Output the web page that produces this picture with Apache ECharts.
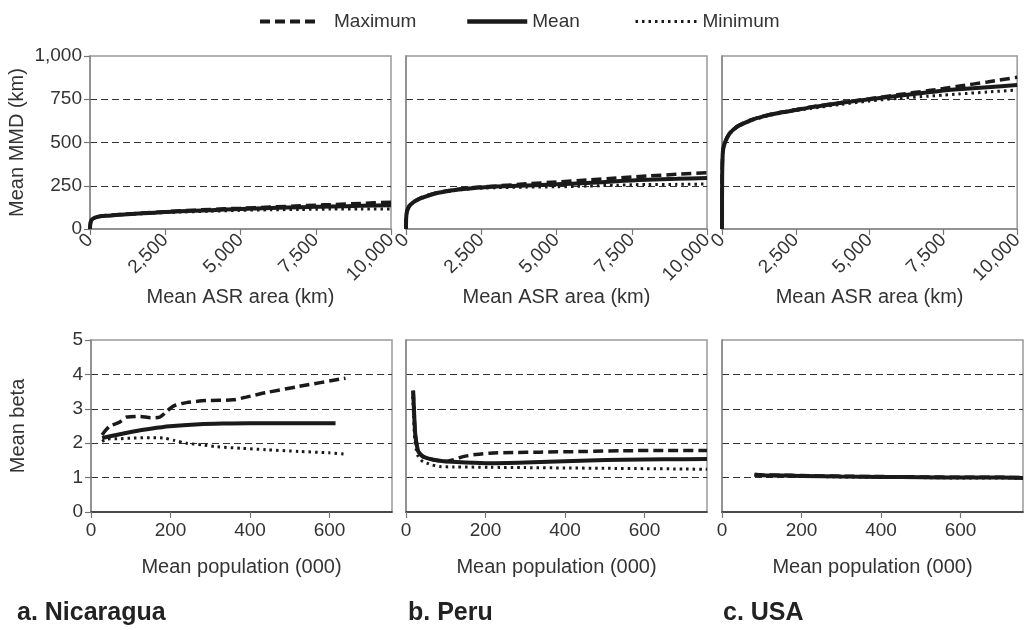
<!DOCTYPE html>
<html>
<head>
<meta charset="utf-8">
<script src="https://cdn.jsdelivr.net/npm/echarts@6/dist/echarts.min.js"></script>
<style>html,body{margin:0;padding:0;background:#fff}#c{width:1026px;height:630px}</style>
</head>
<body>
<div id="c"></div>
<script>
// ---- Data ----
var countries = ['a. Nicaragua', 'b. Peru', 'c. USA'];
var seriesNames = ['Maximum', 'Mean', 'Minimum'];
var xTopTicks = [0, 2500, 5000, 7500, 10000];
var yTopTicks = [0, 250, 500, 750, 1000];
var xBottomTicks = [0, 200, 400, 600];
var yBottomTicks = [0, 1, 2, 3, 4, 5];

// Top row: Mean ASR area (km) vs Mean MMD (km)
var areaX = [0, 5, 30, 100, 250, 500, 1000, 1500, 2000, 2500, 3000, 4000, 5000, 6000, 7000, 7500, 8000, 9000, 10000];
var nicMmdMax  = [0, 21, 46, 61, 71, 77, 84, 90, 95, 100, 105, 113, 120, 127, 134, 138, 141, 148, 155];
var nicMmdMean = [0, 20, 45, 60, 70, 76, 83, 88, 93, 98, 102, 109, 115, 121, 126, 128, 130, 134, 137];
var nicMmdMin  = [0, 19, 44, 59, 69, 75, 82, 86, 91, 95, 98, 103, 108, 111, 113, 114, 115, 115, 116];
var peruMmdMax  = [0, 60, 102, 132, 157, 180, 209, 224, 236, 243, 249, 261, 272, 283, 295, 301, 306, 316, 326];
var peruMmdMean = [0, 60, 100, 130, 155, 178, 207, 222, 233, 240, 245, 252, 258, 266, 276, 281, 285, 290, 295];
var peruMmdMin  = [0, 58, 98, 128, 153, 176, 205, 219, 230, 236, 239, 242, 244, 248, 253, 256, 257, 258, 260];
var usaMmdMax  = [0, 302, 452, 502, 552, 592, 632, 657, 675, 690, 705, 730, 753, 777, 800, 812, 825, 850, 877];
var usaMmdMean = [0, 300, 450, 500, 550, 590, 630, 655, 673, 688, 703, 728, 750, 770, 790, 800, 808, 820, 832];
var usaMmdMin  = [0, 297, 447, 497, 547, 587, 627, 652, 670, 685, 697, 720, 740, 756, 768, 774, 780, 792, 803];

// Bottom row: Mean population (000) vs Mean beta
var nicPopMax   = [28, 35, 48, 70, 90, 123, 150, 173, 190, 207, 240, 290, 357, 390, 440, 523, 640];
var nicBetaMax  = [2.24, 2.35, 2.5, 2.6, 2.76, 2.78, 2.74, 2.76, 2.92, 3.08, 3.18, 3.24, 3.26, 3.34, 3.47, 3.65, 3.89];
var nicPopMean  = [28, 60, 107, 150, 198, 273, 330, 398, 500, 615];
var nicBetaMean = [2.15, 2.23, 2.34, 2.42, 2.49, 2.55, 2.57, 2.58, 2.58, 2.58];
var nicPopMin   = [28, 40, 70, 107, 150, 182, 210, 240, 280, 315, 380, 440, 523, 600, 640];
var nicBetaMin  = [2.05, 2.12, 2.13, 2.15, 2.16, 2.15, 2.08, 2.0, 1.95, 1.9, 1.85, 1.81, 1.76, 1.72, 1.68];

var peruPopMax   = [18, 20, 23, 27, 31, 37, 43, 55, 69, 85, 102, 120, 144, 175, 211, 270, 336, 450, 546, 650, 757];
var peruBetaMax  = [3.53, 3.0, 2.29, 1.95, 1.76, 1.67, 1.61, 1.56, 1.52, 1.49, 1.47, 1.52, 1.61, 1.67, 1.71, 1.73, 1.74, 1.76, 1.78, 1.79, 1.79];
var peruPopMean  = [18, 20, 23, 27, 31, 37, 43, 55, 69, 85, 102, 150, 211, 300, 378, 460, 546, 650, 757];
var peruBetaMean = [3.53, 3.0, 2.29, 1.95, 1.76, 1.67, 1.61, 1.56, 1.52, 1.49, 1.47, 1.44, 1.42, 1.44, 1.47, 1.5, 1.52, 1.53, 1.54];
var peruPopMin   = [17, 19, 22, 26, 31, 37, 43, 52, 65, 85, 120, 211, 300, 400, 500, 600, 700, 757];
var peruBetaMin  = [3.36, 2.8, 2.1, 1.8, 1.61, 1.52, 1.46, 1.42, 1.37, 1.32, 1.31, 1.30, 1.29, 1.28, 1.27, 1.26, 1.25, 1.24];

var usaPop      = [82, 100, 150, 200, 300, 400, 500, 600, 700, 757];
var usaBetaMax  = [1.09, 1.08, 1.07, 1.06, 1.04, 1.03, 1.02, 1.01, 1.01, 1.0];
var usaBetaMean = [1.08, 1.07, 1.06, 1.05, 1.03, 1.02, 1.01, 1.0, 1.0, 0.99];
var usaBetaMin  = [1.07, 1.06, 1.05, 1.04, 1.02, 1.01, 1.0, 0.99, 0.99, 0.98];

// ---- Build chart ----
function pairs(xs, ys) { return xs.map(function (x, i) { return [x, ys[i]]; }); }
var FONT = '"Liberation Sans", Arial, sans-serif';
var TXT = '#333';
var lineStyles = {
  'Maximum': { color: '#1a1a1a', width: 3.5, type: [10, 5] },
  'Mean':    { color: '#1a1a1a', width: 4, type: 'solid' },
  'Minimum': { color: '#1a1a1a', width: 3, type: [2.5, 4] }
};

var gridLefts = [90, 406, 722];
var grids = [];
gridLefts.forEach(function (l) { grids.push({ left: l, top: 56, width: 301, height: 173, show: true, borderColor: '#999', borderWidth: 1.5, backgroundColor: 'transparent' }); });
gridLefts.forEach(function (l, i) { grids.push({ left: l + (i === 0 ? 1 : 0), top: 340, width: 301, height: 172, show: true, borderColor: '#999', borderWidth: 1.5, backgroundColor: 'transparent' }); });

var xAxes = [], yAxes = [];
var split = { show: true, showMinLine: false, showMaxLine: false, lineStyle: { color: '#333', width: 1.2, type: [7, 4] } };
var axisLine = { show: true, onZero: false, lineStyle: { color: '#888', width: 1.5 } };
var axisTick = { show: true, length: 6, lineStyle: { color: '#777', width: 1.2 } };
function fmtComma(v) { return v.toLocaleString('en-US'); }
function fmtPop(v) { return (v % 200 === 0) ? String(v) : ''; }
for (var i = 0; i < 6; i++) {
  var isTop = i < 3;
  xAxes.push({
    type: 'value', gridIndex: i,
    min: 0, max: isTop ? 10000 : 757, interval: isTop ? 2500 : 200,
    axisLine: axisLine, axisTick: axisTick, splitLine: { show: false },
    axisLabel: isTop ? {
      rotate: 45, margin: 8, fontSize: 19, color: TXT, fontFamily: FONT, formatter: fmtComma
    } : {
      margin: 9, fontSize: 19, color: TXT, fontFamily: FONT, showMaxLabel: false, formatter: fmtPop
    },
    name: isTop ? 'Mean ASR area (km)' : 'Mean population (000)',
    nameLocation: 'middle', nameGap: isTop ? 56 : 45,
    nameTextStyle: { fontSize: 20, color: TXT, fontFamily: FONT }
  });
  var first = (i === 0 || i === 3);
  yAxes.push({
    type: 'value', gridIndex: i,
    min: 0, max: isTop ? 1000 : 5, interval: isTop ? 250 : 1,
    axisLine: axisLine,
    axisTick: first ? axisTick : { show: false },
    splitLine: split,
    axisLabel: first ? {
      show: true, margin: 8, fontSize: 19, color: TXT, fontFamily: FONT, formatter: fmtComma
    } : { show: false },
    name: first ? (isTop ? 'Mean MMD (km)' : 'Mean beta') : '',
    nameLocation: 'middle', nameGap: 63, nameRotate: 90,
    nameTextStyle: { fontSize: 20, color: TXT, fontFamily: FONT }
  });
}
// darker top frame line on the lower panels
for (var j = 3; j < 6; j++) {
  xAxes.push({
    type: 'value', gridIndex: j, position: 'top', min: 0, max: 1,
    axisLine: { show: true, lineStyle: { color: '#333', width: 1.5 } },
    axisTick: { show: false }, axisLabel: { show: false }, splitLine: { show: false }
  });
}

var series = [];
function addSeries(name, idx, data) {
  series.push({
    name: name, type: 'line', xAxisIndex: idx, yAxisIndex: idx,
    data: data, showSymbol: false, symbol: 'none', smooth: 0.25,
    itemStyle: { color: '#1a1a1a' },
    lineStyle: lineStyles[name], z: name === 'Mean' ? 4 : 3, animation: false
  });
}
var topSets = [[nicMmdMax, nicMmdMean, nicMmdMin], [peruMmdMax, peruMmdMean, peruMmdMin], [usaMmdMax, usaMmdMean, usaMmdMin]];
topSets.forEach(function (set, c) {
  seriesNames.forEach(function (n, k) { addSeries(n, c, pairs(areaX, set[k])); });
});
var botSets = [
  [[nicPopMax, nicBetaMax], [nicPopMean, nicBetaMean], [nicPopMin, nicBetaMin]],
  [[peruPopMax, peruBetaMax], [peruPopMean, peruBetaMean], [peruPopMin, peruBetaMin]],
  [[usaPop, usaBetaMax], [usaPop, usaBetaMean], [usaPop, usaBetaMin]]
];
botSets.forEach(function (set, c) {
  seriesNames.forEach(function (n, k) { addSeries(n, 3 + c, pairs(set[k][0], set[k][1])); });
});

function makeLegend(name, left, w, lw, textPad) {
  return {
    top: 12, left: left, padding: 0, itemWidth: w, itemHeight: 14, selectedMode: false,
    data: [name],
    itemStyle: { opacity: 0, borderWidth: 0 },
    lineStyle: { width: lw, color: '#1a1a1a' },
    textStyle: { fontSize: 19, color: TXT, fontFamily: FONT, padding: [0, 0, 0, textPad] }
  };
}
var legends = [
  makeLegend('Maximum', 258, 60, 4, 9),
  makeLegend('Mean', 465, 60, 4.5, 0),
  makeLegend('Minimum', 634, 62, 3, 0)
];

var titleLefts = [17, 408, 723];
var titles = countries.map(function (t, i) {
  return { text: t, left: titleLefts[i], top: 601, padding: 0,
    textStyle: { fontSize: 25, fontWeight: 'bold', color: '#222', fontFamily: FONT } };
});

var chart = echarts.init(document.getElementById('c'), null, { renderer: 'canvas' });
chart.setOption({
  animation: false,
  backgroundColor: '#fff',
  title: titles,
  legend: legends,
  grid: grids,
  xAxis: xAxes,
  yAxis: yAxes,
  series: series
});
</script>
</body>
</html>
